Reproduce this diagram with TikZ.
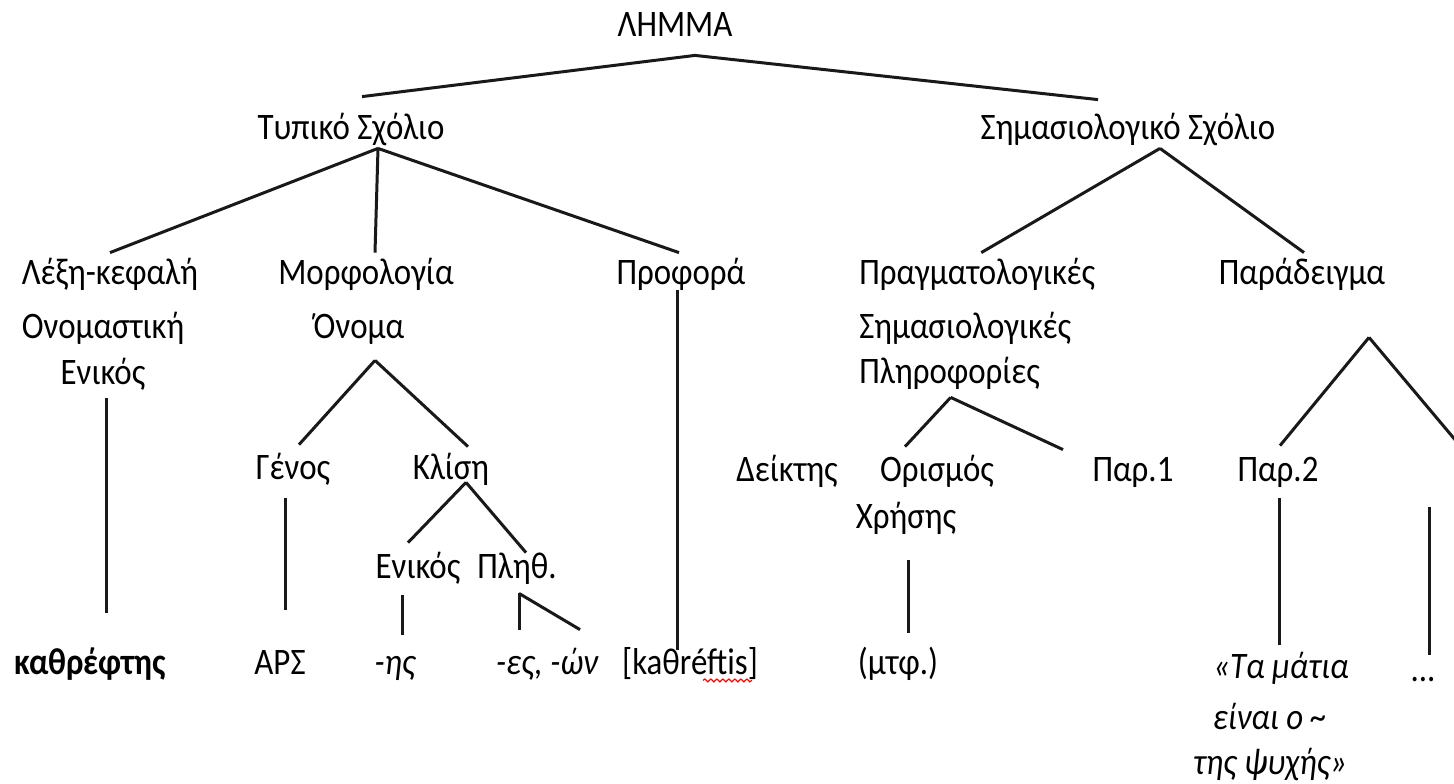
\documentclass[tikz,border=0pt]{standalone}
\usepackage{fontspec}
\setmainfont{Carlito}[FakeStretch=0.88]
\usetikzlibrary{decorations.pathmorphing}
\tikzset{
  lbl/.style={inner sep=0pt, text height=15.6pt, text depth=4.4pt, font=\fontsize{18.7}{22}\selectfont},
  branch/.style={line width=1.5pt, black!90},
}
\begin{document}
\begin{tikzpicture}[x=0.5pt,y=-0.5pt]
            \useasboundingbox (0,0) rectangle (1454,783);
            % top levels
            \node[lbl] (lem) at (675,25) {ΛΗΜΜΑ};
            \node[lbl] (tyc) at (351,128) {Τυπικό Σχόλιο};
            \node[lbl] (sem) at (1128,128) {Σημασιολογικό Σχόλιο};
            \node[lbl] (lex1) at (110,273) {Λέξη-κεφαλή};
            \node[lbl] (lex2) at (103,327) {Ονομαστική};
            \node[lbl] (lex3) at (103,373) {Ενικός};
            \node[lbl] (mor1) at (366,273) {Μορφολογία};
            \node[lbl] (mor2) at (359,327) {Όνομα};
            \node[lbl] (pro) at (681,273) {Προφορά};
            \node[lbl,anchor=west] (prag1) at (859,273) {Πραγματολογικές};
            \node[lbl,anchor=west] (prag2) at (859,327) {Σημασιολογικές};
            \node[lbl,anchor=west] (prag3) at (859,372) {Πληροφορίες};
            \node[lbl] (par) at (1302,273) {Παράδειγμα};
            % middle levels
            \node[lbl] (gen) at (293,468) {Γένος};
            \node[lbl] (kli) at (451,468) {Κλίση};
            \node[lbl] (enk) at (418,567) {Ενικός};
            \node[lbl] (plh) at (517,567) {Πληθ.};
            \node[lbl] (dei) at (787,470) {Δείκτης};
            \node[lbl] (ori) at (937,470) {Ορισμός};
            \node[lbl] (xri) at (906,517) {Χρήσης};
            \node[lbl] (par1) at (1133,470) {Παρ.1};
            \node[lbl] (par2) at (1278,470) {Παρ.2};
            \coordinate (par3) at (1462,448);
            % bottom row
            \node[lbl] (kath) at (90,663) {\bfseries καθρέφτης};
            \node[lbl] (ars) at (280,663) {ΑΡΣ};
            \node[lbl] (is) at (395,663) {\itshape -ης};
            \node[lbl] (es) at (547,663) {\itshape -ες, -ών};
            \node[lbl] (kat) at (690,663) {[kaθréftis]};
            \node[lbl] (mtf) at (898,663) {(μτφ.)};
            \node[lbl] (ex1) at (1281,667) {\itshape «Τα μάτια};
            \node[lbl] (ex2) at (1270,718) {\itshape είναι ο \textasciitilde};
            \node[lbl] (ex3) at (1270,763) {\itshape της ψυχής»};
            \node[lbl] (dots) at (1423,670) {...};
            % connectors
            \draw[branch] ([xshift=10pt,yshift=-5pt]lem.south) -- ([xshift=5.5pt,yshift=5.5pt]tyc.north);
            \draw[branch] ([xshift=10pt,yshift=-5pt]lem.south) -- ([xshift=-15pt,yshift=4pt]sem.north);
            \draw[branch] ([xshift=13.5pt]tyc.south) -- (lex1.north);
            \draw[branch] ([xshift=13.5pt]tyc.south) -- ([xshift=4.5pt]mor1.north);
            \draw[branch] ([xshift=13.5pt]tyc.south) -- ([xshift=-1pt]pro.north);
            \draw[branch] ([xshift=16pt]sem.south) -- ([xshift=2pt]prag1.north);
            \draw[branch] ([xshift=16pt]sem.south) -- ([xshift=1pt]par.north);
            \draw[branch] ([xshift=1.5pt,yshift=-2.5pt]lex3.south) -- ([xshift=8pt,yshift=15pt]kath.north);
            \draw[branch] ([xshift=8pt,yshift=-6.5pt]mor2.south) -- ([xshift=3pt,yshift=1.5pt]gen.north);
            \draw[branch] ([xshift=8pt,yshift=-6.5pt]mor2.south) -- ([xshift=8.5pt,yshift=0.5pt]kli.north);
            \draw[branch] ([xshift=-4pt,yshift=-5pt]gen.south) -- ([xshift=2.5pt,yshift=16.5pt]ars.north);
            \draw[branch] ([xshift=7.5pt,yshift=3pt]kli.south) -- ([xshift=-5pt,yshift=2pt]enk.north);
            \draw[branch] ([xshift=7.5pt,yshift=3pt]kli.south) -- ([xshift=4.5pt,yshift=-3pt]plh.north);
            \draw[branch] ([xshift=-8pt,yshift=-4pt]enk.south) -- ([xshift=3.5pt,yshift=4pt]is.north);
            \draw[branch] ([xshift=1pt,yshift=-3pt]plh.south) -- ([xshift=-14pt,yshift=6.5pt]es.north);
            \draw[branch] ([xshift=1pt,yshift=-3pt]plh.south) -- ([xshift=16.5pt,yshift=6.5pt]es.north);
            \draw[branch] ([xshift=-2pt,yshift=1.5pt]pro.south) -- ([xshift=-6.5pt,yshift=-3.5pt]kat.north);
            \draw[branch] ([xshift=0.5pt,yshift=-2.5pt]prag3.south) -- ([xshift=-16pt,yshift=1.5pt]ori.north);
            \draw[branch] ([xshift=0.5pt,yshift=-2.5pt]prag3.south) -- ([xshift=-35pt]par1.north);
            \draw[branch] ([xshift=1pt,yshift=-11.5pt]xri.south) -- ([xshift=5pt,yshift=5pt]mtf.north);
            \draw[branch] ([xshift=33.5pt,yshift=-22pt]par.south) -- ([xshift=1pt,yshift=2pt]par2.north);
            \draw[branch] ([xshift=33.5pt,yshift=-22pt]par.south) -- (par3);
            \draw[branch] ([xshift=0.5pt,yshift=-4pt]par2.south) -- ([xshift=-1pt,yshift=1pt]ex1.north);
            \draw[branch] ([xshift=-16.5pt,yshift=-29.5pt]par3) -- ([xshift=3pt,yshift=-2.5pt]dots.north);
            % spelling mark
            \draw[red, line width=0.6pt, decorate, decoration={snake, amplitude=0.7pt, segment length=3pt}]
                ([xshift=6.5pt,yshift=1.5pt]kat.south) -- ([xshift=31pt,yshift=1.5pt]kat.south);
        \end{tikzpicture}
\end{document}
